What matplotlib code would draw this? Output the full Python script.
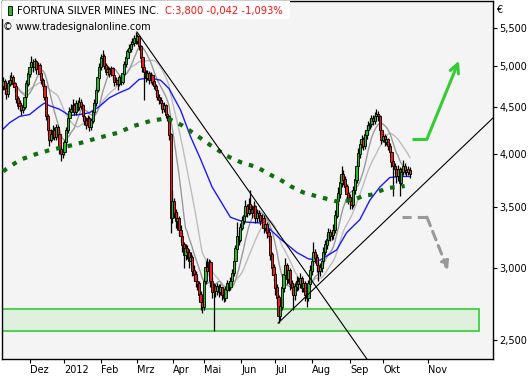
import numpy as np
import pandas as pd
import matplotlib
matplotlib.use('Agg')
import matplotlib.pyplot as plt
from matplotlib.patches import Rectangle

# Tageskerzen (Handelstage ab Mitte Nov 2011)
opens = [4.75,4.80,4.72,4.65,4.78,4.82,4.85,4.78,4.74,4.60,
         4.54,4.52,4.47,4.50,4.62,4.78,4.90,4.98,5.04,4.98,
         5.05,4.96,5.00,4.90,4.82,4.75,4.62,4.40,4.25,4.15,
         4.20,4.24,4.18,4.28,4.20,4.05,4.00,4.02,4.12,4.25,
         4.38,4.45,4.48,4.52,4.45,4.55,4.50,4.56,4.52,4.40,
         4.35,4.30,4.38,4.28,4.35,4.45,4.55,4.70,4.85,4.98,
         5.10,5.12,5.00,4.92,4.95,4.90,4.96,4.88,4.80,4.82,
         4.78,4.85,4.80,4.90,5.02,5.10,5.18,5.22,5.28,5.30,
         5.35,5.32,5.38,5.25,5.10,4.98,4.92,4.85,4.90,4.82,
         4.88,4.80,4.75,4.70,4.62,4.58,4.55,4.48,4.52,4.42,
         4.40,4.20,3.40,3.55,3.45,3.38,3.40,3.30,3.25,3.18,
         3.10,3.15,3.12,3.05,3.08,2.98,2.95,2.90,2.88,2.80,
         2.75,2.72,2.90,3.00,2.98,3.04,2.90,2.82,2.86,2.83,
         2.86,2.82,2.85,2.80,2.78,2.84,2.88,2.86,2.90,2.96,
         3.05,3.15,3.25,3.22,3.32,3.38,3.42,3.50,3.45,3.52,
         3.48,3.45,3.50,3.40,3.44,3.42,3.38,3.40,3.32,3.35,
         3.28,3.25,3.10,3.00,2.95,2.85,2.78,2.66,2.72,2.85,
         2.95,3.02,2.92,2.98,2.88,2.85,2.80,2.86,2.90,2.88,
         2.92,2.85,2.88,2.80,2.78,2.88,2.98,3.05,3.12,3.08,
         3.02,2.98,3.00,3.05,3.12,3.18,3.22,3.28,3.25,3.26,
         3.30,3.42,3.55,3.62,3.72,3.80,3.75,3.68,3.62,3.58,
         3.55,3.52,3.65,3.75,3.88,4.00,4.10,4.15,4.08,4.20,
         4.25,4.30,4.32,4.38,4.35,4.40,4.42,4.40,4.25,4.15,
         4.18,4.12,4.15,4.08,4.02,3.92,3.88,3.85,3.78,3.85,
         3.72,3.82,3.88,3.84,3.82,3.84]

highs = [4.86,4.84,4.76,4.82,4.88,4.92,4.88,4.80,4.76,4.63,
         4.58,4.55,4.54,4.65,4.82,4.95,5.05,5.12,5.08,5.10,
         5.07,5.05,5.03,4.93,4.85,4.78,4.64,4.43,4.28,4.26,
         4.30,4.28,4.32,4.31,4.22,4.08,4.06,4.15,4.28,4.42,
         4.50,4.54,4.60,4.55,4.58,4.58,4.62,4.60,4.54,4.44,
         4.39,4.42,4.40,4.38,4.48,4.60,4.74,4.90,5.03,5.15,
         5.20,5.15,5.03,5.00,4.98,5.00,4.98,4.90,4.86,4.85,
         4.89,4.88,4.94,5.06,5.14,5.22,5.28,5.32,5.36,5.40,
         5.45,5.42,5.40,5.27,5.12,5.02,4.95,4.95,4.93,4.92,
         4.90,4.83,4.78,4.73,4.66,4.62,4.58,4.56,4.54,4.46,
         4.42,4.22,3.65,3.58,3.48,3.46,3.42,3.34,3.28,3.20,
         3.19,3.18,3.15,3.12,3.10,3.02,2.98,2.93,2.90,2.83,
         2.78,2.93,3.05,3.08,3.07,3.06,2.93,2.89,2.88,2.89,
         2.88,2.88,2.86,2.82,2.87,2.91,2.90,2.93,2.99,3.08,
         3.18,3.37,3.30,3.36,3.42,3.47,3.56,3.53,3.58,3.65,
         3.52,3.55,3.52,3.48,3.47,3.45,3.44,3.43,3.39,3.37,
         3.31,3.27,3.12,3.03,2.97,2.88,2.80,2.76,2.88,2.99,
         3.08,3.04,3.02,3.00,2.91,2.88,2.89,2.94,2.93,2.96,
         2.94,2.91,2.90,2.83,2.91,3.02,3.09,3.20,3.15,3.11,
         3.05,3.04,3.08,3.16,3.22,3.27,3.32,3.31,3.30,3.35,
         3.47,3.60,3.68,3.78,3.88,3.84,3.78,3.71,3.66,3.62,
         3.58,3.69,3.80,3.93,4.06,4.15,4.20,4.18,4.25,4.30,
         4.35,4.38,4.42,4.41,4.45,4.48,4.46,4.42,4.28,4.23,
         4.21,4.19,4.17,4.11,4.04,3.95,3.91,3.88,3.89,3.87,
         3.86,3.94,3.91,3.87,3.88,3.87]

lows = [4.70,4.66,4.60,4.62,4.75,4.78,4.74,4.68,4.55,4.48,
        4.46,4.42,4.44,4.48,4.60,4.75,4.86,4.94,4.92,4.95,
        4.90,4.92,4.86,4.78,4.70,4.58,4.36,4.20,4.08,4.12,
        4.16,4.14,4.15,4.16,4.00,3.93,3.96,3.99,4.10,4.22,
        4.34,4.42,4.45,4.41,4.42,4.46,4.47,4.48,4.36,4.31,
        4.26,4.28,4.24,4.25,4.33,4.42,4.52,4.68,4.82,4.95,
        5.05,4.96,4.88,4.89,4.86,4.87,4.84,4.75,4.76,4.70,
        4.75,4.76,4.78,4.88,4.99,5.07,5.14,5.18,5.24,5.26,
        5.28,5.28,5.20,5.05,4.92,4.59,4.80,4.82,4.78,4.79,
        4.76,4.71,4.66,4.58,4.54,4.50,4.44,4.45,4.38,4.35,
        4.15,3.28,3.36,3.40,3.32,3.30,3.25,3.20,3.12,3.00,
        3.06,3.07,3.00,3.02,2.94,2.90,2.86,2.84,2.76,2.70,
        2.68,2.70,2.88,2.94,2.95,2.86,2.78,2.56,2.79,2.80,
        2.79,2.80,2.77,2.75,2.76,2.82,2.83,2.84,2.88,2.94,
        3.02,3.12,3.18,3.20,3.30,3.35,3.40,3.41,3.43,3.44,
        3.40,3.42,3.36,3.37,3.38,3.34,3.35,3.28,3.29,3.24,
        3.20,3.06,2.95,2.90,2.80,2.73,2.61,2.63,2.70,2.82,
        2.92,2.88,2.89,2.84,2.81,2.70,2.77,2.83,2.84,2.85,
        2.82,2.82,2.76,2.72,2.76,2.86,2.95,3.02,3.04,2.97,
        2.90,2.94,2.97,3.02,3.10,3.15,3.19,3.21,3.22,3.23,
        3.28,3.40,3.52,3.58,3.68,3.70,3.64,3.57,3.53,3.48,
        3.48,3.50,3.62,3.72,3.85,3.96,4.06,4.04,4.05,4.16,
        4.21,4.26,4.28,4.30,4.32,4.36,4.35,4.20,4.10,4.12,
        4.08,4.09,4.04,3.98,3.87,3.60,3.80,3.72,3.74,3.60,
        3.70,3.79,3.80,3.78,3.79,3.77]

closes = [4.80,4.72,4.65,4.78,4.82,4.85,4.78,4.74,4.60,4.52,
          4.52,4.47,4.50,4.62,4.78,4.90,4.98,5.04,4.98,5.05,
          4.96,5.00,4.90,4.82,4.75,4.62,4.40,4.25,4.15,4.20,
          4.24,4.18,4.28,4.20,4.05,4.00,4.02,4.12,4.25,4.38,
          4.45,4.48,4.52,4.45,4.55,4.50,4.56,4.52,4.40,4.35,
          4.30,4.38,4.28,4.35,4.45,4.55,4.70,4.85,4.98,5.10,
          5.12,5.00,4.92,4.95,4.90,4.96,4.88,4.80,4.82,4.78,
          4.85,4.80,4.90,5.02,5.10,5.18,5.22,5.28,5.30,5.35,
          5.32,5.38,5.25,5.10,4.98,4.92,4.85,4.90,4.82,4.88,
          4.80,4.75,4.70,4.62,4.58,4.55,4.48,4.52,4.42,4.40,
          4.20,3.40,3.55,3.45,3.38,3.40,3.30,3.25,3.18,3.10,
          3.15,3.12,3.05,3.08,2.98,2.95,2.90,2.88,2.80,2.75,
          2.72,2.90,3.00,2.98,3.04,2.90,2.82,2.86,2.83,2.86,
          2.82,2.85,2.80,2.78,2.84,2.88,2.86,2.90,2.96,3.05,
          3.15,3.25,3.22,3.32,3.38,3.42,3.50,3.45,3.52,3.48,
          3.45,3.50,3.40,3.44,3.42,3.38,3.40,3.32,3.35,3.28,
          3.25,3.10,3.00,2.95,2.85,2.78,2.66,2.72,2.85,2.95,
          3.02,2.92,2.98,2.88,2.85,2.80,2.86,2.90,2.88,2.92,
          2.85,2.88,2.80,2.78,2.88,2.98,3.05,3.12,3.08,3.02,
          2.98,3.00,3.05,3.12,3.18,3.22,3.28,3.25,3.26,3.30,
          3.42,3.55,3.62,3.72,3.80,3.75,3.68,3.62,3.58,3.55,
          3.52,3.65,3.75,3.88,4.00,4.10,4.15,4.08,4.20,4.25,
          4.30,4.32,4.38,4.35,4.40,4.42,4.40,4.25,4.15,4.18,
          4.12,4.15,4.08,4.02,3.92,3.88,3.85,3.78,3.85,3.72,
          3.82,3.88,3.84,3.82,3.85,3.80]

# gleitende Durchschnitte
ma_blue_bars = [0, 4, 10, 16, 22, 25, 28, 34, 40, 46, 52, 58, 64, 70, 76, 82, 88, 95, 100,
                107, 113, 119, 126, 137, 145, 157, 163, 167, 177, 184, 191, 201, 207, 215,
                221, 227, 233, 239, 245]
ma_blue_vals = [4.26, 4.33, 4.40, 4.42, 4.51, 4.55, 4.52, 4.48, 4.41, 4.42, 4.44, 4.51, 4.61,
                4.67, 4.72, 4.83, 4.85, 4.82, 4.72, 4.47, 4.18, 3.95, 3.68, 3.41, 3.37, 3.36,
                3.28, 3.23, 3.12, 3.07, 3.06, 3.14, 3.28, 3.39, 3.56, 3.68, 3.77, 3.78, 3.78]
ma200_bars = [0, 10, 18, 28, 39, 48, 58, 69, 78, 89, 99, 108, 117, 125, 135, 143, 153, 163,
              167, 173, 181, 188, 201, 211, 217, 222, 231, 237, 242]
ma200_vals = [3.83, 3.94, 3.99, 4.04, 4.08, 4.12, 4.17, 4.22, 4.29, 4.35, 4.38, 4.30, 4.19,
              4.09, 3.98, 3.92, 3.87, 3.78, 3.75, 3.69, 3.63, 3.60, 3.55, 3.56, 3.60, 3.61,
              3.67, 3.68, 3.69]

month_labels = ['Dez', '2012', 'Feb', 'Mrz', 'Apr', 'Mai', 'Jun', 'Jul', 'Aug', 'Sep', 'Okt', 'Nov']
month_pos = [16.3, 36.7, 59, 80.7, 102.4, 121, 143.4, 163.9, 186, 209, 229, 256]
price_ticks = [2.5, 3.0, 3.5, 4.0, 4.5, 5.0, 5.5]

# Trendlinien, Unterstuetzungszone, Pfeile
down_trend = ([80.7, 219.3], [5.445, 2.383])
up_trend = ([165.7, 295.2], [2.61, 4.382])
support_zone = (-0.6, 286.7, 2.557, 2.704)
arrow_up = ([246.4, 255.4, 274.7], [4.154, 4.154, 5.063])
arrow_down = ([240.4, 255.4, 268.1], [3.411, 3.411, 2.984])

W, H = 531, 380
fig = plt.figure(figsize=(W / 100, H / 100), dpi=100)
fig.patch.set_facecolor('white')
ax = fig.add_axes([2 / W, 21 / H, 491 / W, 358 / H])
ax.set_facecolor('#f4f4f4')

x = np.arange(len(closes))
o = np.array(opens)
c = np.array(closes)
s = pd.Series(closes)
ma10 = s.rolling(10, min_periods=1).mean()
ma20 = s.rolling(20, min_periods=1).mean()

# Zone
x0, x1, y0, y1 = support_zone
ax.add_patch(Rectangle((x0, y0), x1 - x0, y1 - y0, facecolor='#dff0df',
                       edgecolor='#33cc33', lw=1.2, zorder=1))

ax.plot(x, ma20, color='#bdbdbd', lw=1.0, zorder=2)
ax.plot(x, ma10, color='#9a9a9a', lw=1.0, zorder=2)
ax.plot(ma_blue_bars, ma_blue_vals, color='#1a1aff', lw=1.0, zorder=2)

# Kerzen
cols = np.where(c >= o, '#2ab82a', '#ee1c1c')
ax.vlines(x, lows, highs, color='black', lw=0.9, zorder=3)
ax.bar(x, np.abs(c - o) + 0.006, bottom=np.minimum(o, c), width=1.35, color=cols,
       edgecolor='black', linewidth=0.6, zorder=4)

ax.plot(ma200_bars, ma200_vals, color='#106e10', lw=3.0, linestyle=(0, (1.1, 1.7)),
        zorder=5)

ax.plot(*down_trend, color='black', lw=0.8, zorder=6)
ax.plot(*up_trend, color='black', lw=0.8, zorder=6)

# Pfeile
ax.plot(arrow_up[0][:2], arrow_up[1][:2], color='#33cc33', lw=2.2, zorder=6,
        solid_capstyle='butt')
ax.annotate('', xy=(arrow_up[0][2], arrow_up[1][2]), xytext=(arrow_up[0][1], arrow_up[1][1]),
            arrowprops=dict(arrowstyle='->', color='#33cc33', lw=2.2, mutation_scale=16,
                            shrinkA=0, shrinkB=0), zorder=6)
ax.plot(arrow_down[0][:2], arrow_down[1][:2], color='#999999', lw=2.2, zorder=6,
        linestyle=(0, (3, 2)))
ax.annotate('', xy=(arrow_down[0][2], arrow_down[1][2]),
            xytext=(arrow_down[0][1], arrow_down[1][1]),
            arrowprops=dict(arrowstyle='-|>', color='#999999', lw=2.2, mutation_scale=12,
                            linestyle=(0, (3, 2)), shrinkA=0, shrinkB=0), zorder=6)

ax.set_yscale('log')
ax.set_ylim(2.384, 5.888)
ax.set_xlim(-0.6, 295.2)
ax.yaxis.tick_right()
ax.set_yticks(price_ticks)
ax.set_yticklabels([('%.3f' % v).replace('.', ',') for v in price_ticks])
ax.yaxis.set_minor_locator(plt.NullLocator())
ax.set_xticks(month_pos)
ax.set_xticklabels(month_labels, ha='left')
ax.tick_params(axis='both', direction='out', length=3, width=0.8, labelsize=7,
               colors='black', pad=1.5)
for sp in ax.spines.values():
    sp.set_color('black')
    sp.set_linewidth(1.0)

# Kopfzeile
fig.patches.append(Rectangle((2 / W, 1 - 19 / H), 288 / W, 18 / H, transform=fig.transFigure,
                             facecolor='white', edgecolor='none', zorder=10))
fig.patches.append(Rectangle((8 / W, 1 - 15 / H), 4 / W, 9 / H, transform=fig.transFigure,
                             facecolor='#2ab82a', edgecolor='black', lw=0.6, zorder=11))
fig.text(17 / W, 1 - 11 / H, 'FORTUNA SILVER MINES INC.', fontsize=7.2, va='center',
         color='black', zorder=12)
fig.text(165 / W, 1 - 11 / H, 'C:3,800 -0,042 -1,093%', fontsize=7.2, va='center',
         color='#ff1010', zorder=12)
fig.text(3 / W, 1 - 27 / H, '\u00a9 www.tradesignalonline.com', fontsize=7.0, va='center',
         color='black', zorder=12)
fig.text(496 / W, 1 - 10 / H, '\u20ac', fontsize=7, va='center', color='black')

fig.savefig('out.png', dpi=100)
